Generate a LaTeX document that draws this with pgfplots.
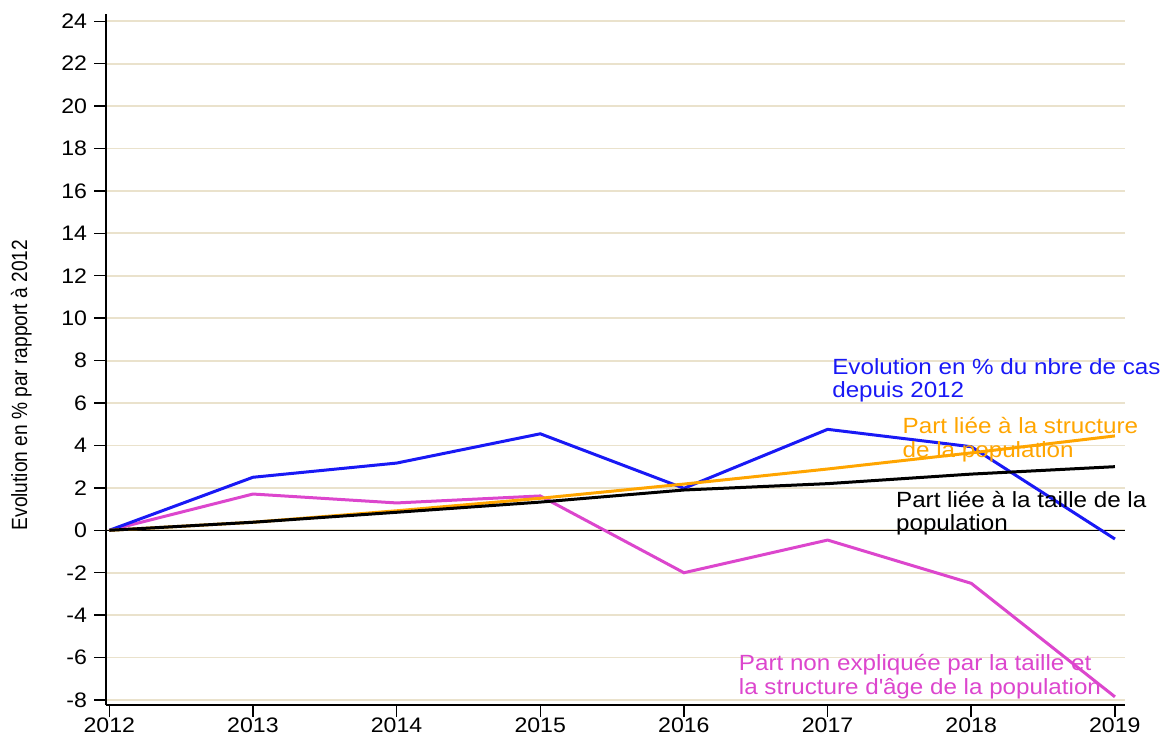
\documentclass[border=0pt]{standalone}
\usepackage{fontspec}
\setmainfont{Liberation Sans}[FakeStretch=1.1]
\newfontfamily\ylabfont{Liberation Sans}[FakeStretch=0.87]
\usepackage{pgfplots}
\pgfplotsset{compat=1.18}
\definecolor{gridbeige}{RGB}{234,226,204}
\definecolor{serieBlue}{RGB}{25,25,245}
\definecolor{serieOrange}{RGB}{255,165,0}
\definecolor{serieMagenta}{RGB}{220,70,205}

\begin{document}
\begin{tikzpicture}
\begin{axis}[
    scale only axis,
    width=509.5pt, height=345.5pt,
    xmin=2011.977, xmax=2019.07,
    ymin=-8.236, ymax=24.34,
    axis x line*=bottom, axis y line*=left,
    axis line style={black, line width=0.9pt},
    xtick={2012,...,2019},
    ytick={-8,-6,...,24},
    tick align=outside,
    major tick length=6pt,
    tick style={black, line width=0.7pt},
    ymajorgrids,
    grid style={gridbeige, line width=0.9pt},
    extra y ticks={0}, extra y tick labels={},
    extra y tick style={grid style={black, line width=0.7pt}},
    tick label style={font=\fontsize{10.5}{12}\selectfont},
    /pgf/number format/assume math mode=true,
    xticklabel style={/pgf/number format/1000 sep={}, yshift=3pt},
    ylabel={Evolution en \% par rapport à 2012},
    ylabel style={font=\ylabfont\fontsize{11}{12}\selectfont,
        at={(axis description cs:-0.066,0.463)}, anchor=south},
    clip=false,
]
% part non expliquee
\addplot[serieMagenta, line width=1.5pt] coordinates {
    (2012,0) (2013,1.71) (2014,1.29) (2015,1.62) (2016,-2.0) (2017,-0.46) (2018,-2.5) (2019,-7.85)
};
% evolution du nombre de cas
\addplot[serieBlue, line width=1.5pt] coordinates {
    (2012,0) (2013,2.5) (2014,3.17) (2015,4.55) (2016,1.98) (2017,4.76) (2018,3.94) (2019,-0.41)
};
% structure de la population
\addplot[serieOrange, line width=1.5pt] coordinates {
    (2012,0) (2013,0.38) (2014,0.92) (2015,1.51) (2016,2.18) (2017,2.89) (2018,3.65) (2019,4.45)
};
% taille de la population
\addplot[black, line width=1.5pt] coordinates {
    (2012,0) (2013,0.38) (2014,0.85) (2015,1.33) (2016,1.9) (2017,2.2) (2018,2.65) (2019,3.0)
};

\tikzset{lab/.style={anchor=base west, inner sep=0pt, font=\fontsize{11}{12}\selectfont}}
\node[lab, text=serieBlue] at (axis cs:2017.03,7.35) {Evolution en \% du nbre de cas};
\node[lab, text=serieBlue] at (axis cs:2017.03,6.26) {depuis 2012};
\node[lab, text=serieOrange] at (axis cs:2017.52,4.57) {Part liée à la structure};
\node[lab, text=serieOrange] at (axis cs:2017.52,3.44) {de la population};
\node[lab, text=black] at (axis cs:2017.474,1.08) {Part liée à la taille de la};
\node[lab, text=black] at (axis cs:2017.474,-0.02) {population};
\node[lab, text=serieMagenta] at (axis cs:2016.38,-6.59) {Part non expliquée par la taille et};
\node[lab, text=serieMagenta] at (axis cs:2016.38,-7.74) {la structure d\textquotesingle âge de la population};
\end{axis}
\pgfresetboundingbox
\path ([shift={(-53pt,-17.5pt)}]current axis.south west) rectangle ([shift={(19.5pt,7pt)}]current axis.north east);
\end{tikzpicture}
\end{document}
